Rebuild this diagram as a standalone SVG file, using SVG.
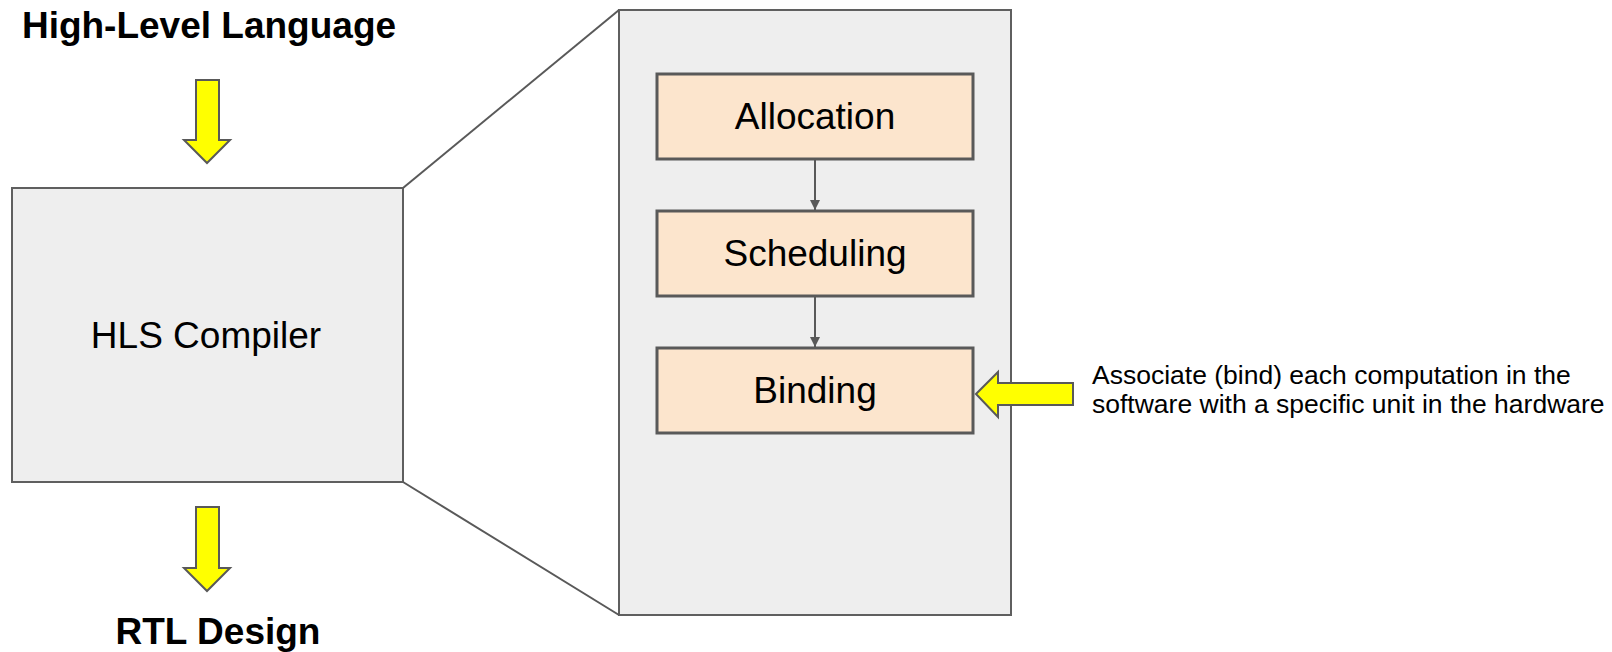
<svg xmlns="http://www.w3.org/2000/svg" width="1612" height="652" viewBox="0 0 1612 652">
<style>
.t{font-family:"Liberation Sans",Arial,sans-serif;fill:#000}
.b{font-weight:bold;font-size:37px}
.r{font-size:37px}
.s{font-size:26.5px}
.panel{fill:#eeeeee;stroke:#5f5f5f;stroke-width:2}
.step{fill:#fce5cd;stroke:#595959;stroke-width:3}
.yarrow{fill:#ffff00;stroke:#595959;stroke-width:2;stroke-linejoin:miter}
.ln{stroke:#595959;stroke-width:2;fill:none}
</style>
<defs>
<marker id="ah" viewBox="0 0 10 10" refX="10" refY="5" markerWidth="5" markerHeight="5" orient="auto" markerUnits="strokeWidth">
<path d="M0,0 L10,5 L0,10 z" fill="#595959"/>
</marker>
</defs>
<rect width="1612" height="652" fill="#ffffff"/>
<g id="title-top"><text class="t b" x="209" y="38" text-anchor="middle">High-Level Language</text></g>
<g id="title-bottom"><text class="t b" x="218" y="644" text-anchor="middle">RTL Design</text></g>
<g id="hls"><rect class="panel" x="12" y="188" width="391" height="294"/><text class="t r" x="206" y="348" text-anchor="middle">HLS Compiler</text></g>
<g id="detail"><rect class="panel" x="619" y="10" width="392" height="605"/></g>
<g id="allocation"><rect class="step" x="657" y="74" width="316" height="85"/><text class="t r" x="815" y="129" text-anchor="middle">Allocation</text></g>
<g id="scheduling"><rect class="step" x="657" y="211" width="316" height="85"/><text class="t r" x="815" y="266" text-anchor="middle">Scheduling</text></g>
<g id="binding"><rect class="step" x="657" y="348" width="316" height="85"/><text class="t r" x="815" y="403" text-anchor="middle">Binding</text></g>
<g id="note"><text class="t s" x="1092" y="384">Associate (bind) each computation in the</text><text class="t s" x="1092" y="413">software with a specific unit in the hardware</text></g>
<g id="connectors">
<line class="ln" x1="403" y1="188" x2="619" y2="10"/>
<line class="ln" x1="403" y1="482" x2="619" y2="615"/>
<line class="ln" x1="815" y1="160" x2="815" y2="210" marker-end="url(#ah)"/>
<line class="ln" x1="815" y1="297" x2="815" y2="347" marker-end="url(#ah)"/>
<polygon class="yarrow" points="196,80 219,80 219,140 230,140 207,163 184,140 196,140"/>
<polygon class="yarrow" points="196,507 219,507 219,568 230,568 207,591 184,568 196,568"/>
<polygon class="yarrow" points="976,394 998,372 998,383 1073,383 1073,405 998,405 998,417"/>
</g>
</svg>
